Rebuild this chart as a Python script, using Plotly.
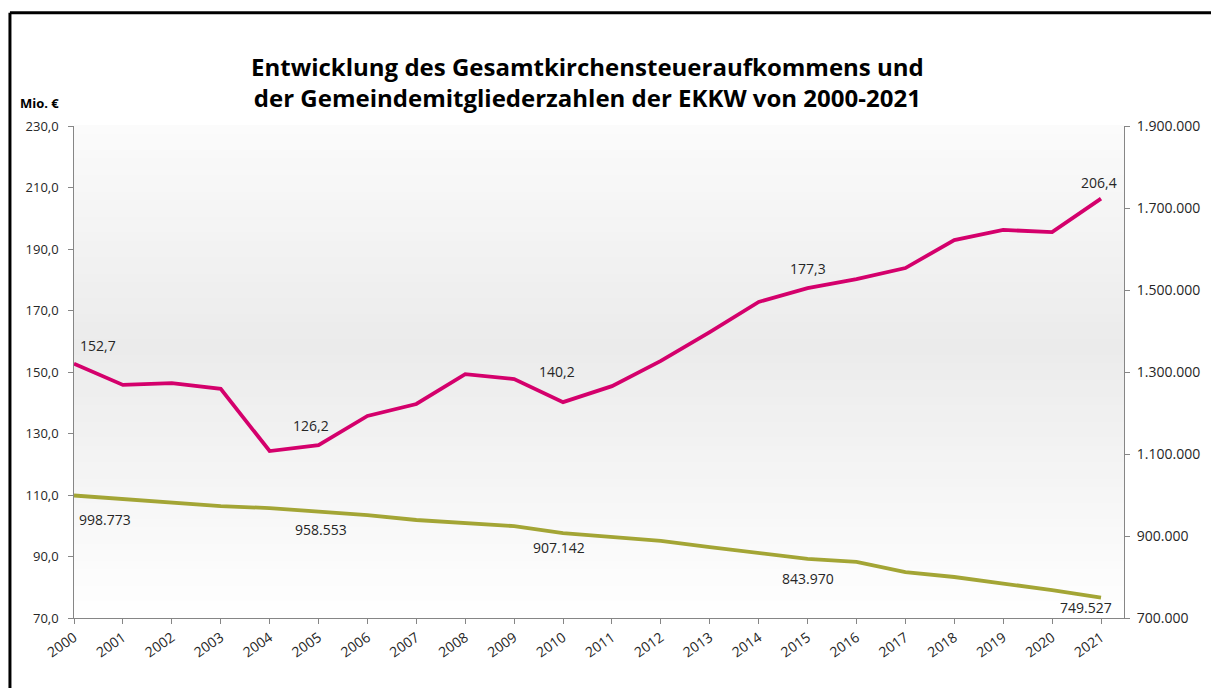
import plotly.graph_objects as go

years = list(range(2000, 2022))
steuer = [152.7, 145.8, 146.4, 144.5, 124.3, 126.2, 135.7, 139.6, 149.3, 147.7, 140.2,
          145.4, 153.6, 163.0, 172.8, 177.3, 180.2, 183.8, 192.9, 196.2, 195.5, 206.4]
mitglieder = [998773, 990000, 983000, 973000, 968000, 958553, 951000, 939000, 932000, 924000,
              907142, 897000, 888000, 873000, 858000, 843970, 837000, 812000, 800000, 785000,
              768000, 749527]
label_idx = [0, 5, 10, 15, 21]

title_lines = ["Entwicklung des Gesamtkirchensteueraufkommens und",
               "der Gemeindemitgliederzahlen der EKKW von 2000-2021"]

RED = "#d4006c"
GREEN = "#a3a535"
FONT = "Open Sans"

fig = go.Figure()

# background gradient (white -> light gray -> white)
N = 60
for i in range(N):
    f0 = i / N
    f1 = (i + 1) / N
    t = (f0 + f1) / 2  # 0 bottom, 1 top
    if t > 0.55:
        g = 235 + (t - 0.55) / 0.45 * 16
    else:
        g = 235 + (0.55 - t) / 0.55 * 20
    g = int(round(min(g, 255)))
    fig.add_shape(type="rect", xref="x domain", yref="y domain", x0=0, x1=1, y0=f0, y1=f1 + 0.002,
                  fillcolor=f"rgb({g},{g},{g})", line_width=0, layer="below")

fig.add_trace(go.Scatter(x=years, y=steuer, mode="lines", line=dict(color=RED, width=3.8),
                         name="Kirchensteuer", showlegend=False))
fig.add_trace(go.Scatter(x=years, y=mitglieder, mode="lines", line=dict(color=GREEN, width=3.8),
                         name="Gemeindemitglieder", showlegend=False, yaxis="y2"))

def fmt_de(v, dec):
    s = f"{v:,.{dec}f}"
    return s.replace(",", "X").replace(".", ",").replace("X", ".")

red_shift = [(24, 18), (-8, 20), (-6, 31), (0, 20), (-2, 16)]
green_shift = [(31, -24), (2, -18), (-4, -14), (0, -20), (-15, -10)]
for k, i in enumerate(label_idx):
    fig.add_annotation(x=years[i], y=steuer[i], xref="x", yref="y", text=fmt_de(steuer[i], 1),
                       showarrow=False, xshift=red_shift[k][0], yshift=red_shift[k][1],
                       font=dict(family=FONT, size=14, color="#262626"))
    fig.add_annotation(x=years[i], y=mitglieder[i], xref="x", yref="y2", text=fmt_de(mitglieder[i], 0),
                       showarrow=False, xshift=green_shift[k][0], yshift=green_shift[k][1],
                       font=dict(family=FONT, size=14, color="#262626"))

fig.add_annotation(x=0.489, y=1.158, xref="paper", yref="paper", yanchor="top", xanchor="center",
                   text="<b>" + title_lines[0] + "<br>" + title_lines[1] + "</b>", showarrow=False,
                   font=dict(family=FONT, size=24, color="#000000"))
fig.add_annotation(text="<b>Mio. €</b>", xref="paper", yref="paper", x=-0.053, y=1.047,
                   xanchor="left", yanchor="middle", showarrow=False,
                   font=dict(family=FONT, size=13, color="#000000"))

# outer border
fig.add_shape(type="line", xref="paper", yref="paper", x0=-0.061, x1=1.2, y0=1.23, y1=1.23,
              line=dict(color="black", width=3))
fig.add_shape(type="line", xref="paper", yref="paper", x0=-0.061, x1=-0.061, y0=-0.2, y1=1.23,
              line=dict(color="black", width=3))

axis_col = "#868686"
tick_font = dict(family=FONT, size=13, color="#262626")
tick_font_r = dict(family=FONT, size=14, color="#262626")
fig.update_layout(
    width=1211, height=680,
    margin=dict(l=66, r=95, t=118, b=70),
    paper_bgcolor="white", plot_bgcolor="white",
    separators=",.",
    xaxis=dict(range=[2000, 2021.47], dtick=1, tick0=2000, tickangle=-35, showgrid=False, zeroline=False,
               showline=True, linecolor=axis_col, linewidth=1, ticks="outside", ticklen=5,
               tickcolor=axis_col, tickfont=tick_font_r),
    yaxis=dict(range=[70, 230], dtick=20, tick0=70, tickformat=".1f", showgrid=False, zeroline=False,
               showline=True, linecolor=axis_col, linewidth=1, ticks="outside", ticklen=5,
               tickcolor=axis_col, tickfont=tick_font, ticksuffix="\u00a0\u00a0"),
    yaxis2=dict(range=[700000, 1900000], dtick=200000, tick0=700000, tickformat=",.0f", overlaying="y",
                side="right", showgrid=False, zeroline=False, showline=True, linecolor=axis_col,
                linewidth=1, ticks="outside", ticklen=5, tickcolor=axis_col, tickfont=tick_font_r,
                ticklabelstandoff=4),
)

fig.write_html("out.html")
